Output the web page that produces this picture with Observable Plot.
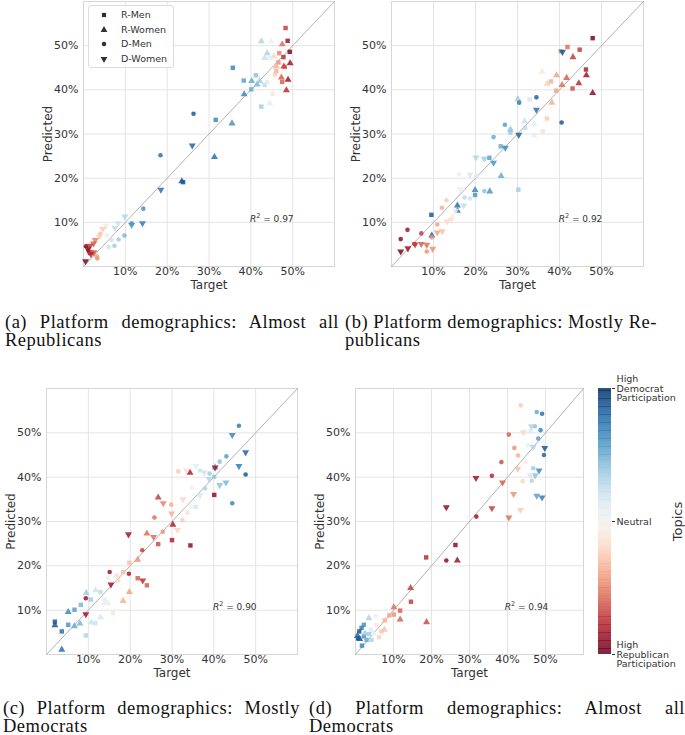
<!DOCTYPE html>
<html><head><meta charset="utf-8">
<script src="https://cdn.jsdelivr.net/npm/d3@7"></script>
<script src="https://cdn.jsdelivr.net/npm/@observablehq/plot@0.6"></script>
<style>
body{margin:0;background:#fff;}
#fig{position:relative;width:685px;height:735px;overflow:hidden;background:#fff;}
.cap{position:absolute;font-family:"Liberation Serif",serif;font-size:18.5px;letter-spacing:0.5px;line-height:18px;color:#111;white-space:nowrap;}
.just{text-align:justify;text-align-last:justify;white-space:normal;}
.leg{position:absolute;left:88px;top:5px;width:84px;height:61px;border:1px solid #dcdcdc;border-radius:3px;background:rgba(255,255,255,0.85);font-family:"DejaVu Sans";font-size:9.5px;color:#333;}
.leg div{position:absolute;left:0;height:12px;line-height:12px;}
.leg svg{position:absolute;left:10px;top:1px;}
.leg span{position:absolute;left:32px;white-space:nowrap;}
</style></head><body><div id="fig"></div>
<script>
// ---------- data: [target %, predicted %, topic lean (-1 = Republican, +1 = Democrat)] ----------
const groups = ["R-Men", "R-Women", "D-Men", "D-Women"];
const ticks = [10, 20, 30, 40, 50];
const diag = [0, 60];

// (a) Almost all Republicans
const aRMen = [[48.3,54.0,-0.7],[48.8,51.1,-0.85],[49.3,48.6,-0.95],[46.8,48.3,-0.5],[47.8,47.4,-0.75],[46.6,46.2,-0.45],[48.1,45.2,-0.5],[46.1,44.2,-0.35],[45.8,43.5,-0.25],[47.5,41.8,-0.6],[45.2,39.1,-0.12],[35.7,45.0,0.65],[38.3,42.1,0.55],[41.2,43.3,0.4],[40.1,40.1,0.5],[43.3,41.1,0.25],[43.9,41.7,0.12],[44.4,47.2,0.08],[42.5,36.2,0.35],[31.6,33.2,0.65],[23.8,19.1,0.85]];
const aRWomen = [[42.5,51.0,0.3],[44.9,51.0,0.02],[47.5,50.3,-0.55],[43.9,48.3,0.3],[43.3,47.2,0.2],[45.5,47.6,-0.2],[49.4,46.0,-0.85],[47.9,45.3,-0.7],[46.1,45.3,-0.35],[47.3,42.8,-0.6],[48.9,42.3,-0.85],[48.5,39.9,-0.75],[40.2,42.0,0.5],[41.5,41.2,0.45],[42.1,42.0,0.35],[38.4,39.0,0.65],[44.5,36.9,0.1],[35.5,32.4,0.6],[31.3,24.8,0.75],[23.5,19.3,0.85]];
const aDMen = [[26.3,34.6,0.85],[18.4,25.2,0.75],[14.3,13.1,0.6],[11.5,9.8,0.6],[9.8,7.0,0.45],[8.4,6.1,0.35],[7.4,4.7,0.35],[6.7,6.0,0.2],[6.0,4.4,0.2],[5.6,7.1,0.05],[0.6,4.6,-0.95],[1.2,3.6,-0.9],[1.5,3.0,-0.8],[2.0,3.2,-0.7],[3.2,2.3,-0.4],[3.3,1.8,-0.45],[4.0,7.4,-0.3]];
const aDWomen = [[26.0,27.4,0.8],[18.5,17.4,0.75],[14.1,9.8,0.7],[11.5,9.4,0.6],[9.9,11.3,0.3],[8.3,9.8,0.2],[7.5,8.7,0.25],[5.4,9.2,0.05],[4.6,8.5,-0.25],[3.8,6.8,-0.25],[2.8,6.0,-0.5],[2.4,5.2,-0.6],[1.6,4.7,-0.7],[0.5,1.2,-0.95],[2.5,3.2,-0.6],[1.0,4.0,-0.85],[1.8,2.8,-0.75]];

// (b) Mostly Republicans
const bRMen = [[47.9,51.7,-0.95],[41.9,49.7,-0.55],[44.8,49.1,-0.7],[40.3,48.7,-0.45],[46.3,44.6,-0.8],[43.1,40.3,-0.65],[38.0,41.9,-0.35],[39.2,39.8,-0.4],[37.0,33.5,-0.25],[36.0,30.6,-0.15],[34.0,29.7,0.1],[32.9,37.8,0.15],[31.8,31.4,0.25],[28.3,30.3,0.35],[26.0,27.2,0.5],[23.3,24.6,0.55],[19.9,16.2,0.6],[30.2,17.4,0.35],[9.5,11.7,0.85]];
const bRWomen = [[43.2,47.4,-0.7],[35.9,44.1,-0.1],[39.3,43.3,-0.4],[41.7,42.7,-0.6],[46.4,43.3,-0.85],[37.1,41.4,-0.25],[40.6,41.1,-0.55],[44.6,41.5,-0.75],[47.9,39.3,-0.9],[38.2,37.1,-0.35],[30.1,37.9,0.35],[31.7,32.9,0.2],[34.0,32.2,0.05],[28.3,31.0,0.4],[26.1,20.5,0.5],[23.4,17.0,0.6],[19.9,17.3,0.65],[15.7,13.8,0.75],[15.7,12.6,0.7],[9.6,7.0,0.8]];
const bDMen = [[34.5,38.3,0.8],[30.4,37.1,0.7],[40.5,32.6,0.85],[27.0,32.1,0.55],[24.3,29.3,0.5],[22.1,17.1,0.4],[20.2,20.5,0.15],[18.7,15.4,0.2],[17.4,15.6,0.25],[16.1,20.9,0.05],[13.1,15.0,-0.25],[12.0,13.3,-0.35],[10.9,9.5,-0.4],[9.6,6.6,-0.45],[7.1,7.5,-0.7],[3.8,8.3,-0.85],[2.2,6.2,-0.9],[5.5,5.1,-0.75],[8.4,3.4,-0.45],[14.5,11.5,0.0]];
const bDWomen = [[40.7,48.6,0.85],[34.5,35.5,0.75],[30.3,29.8,0.8],[27.1,26.9,0.65],[24.3,23.5,0.6],[22.1,24.4,0.35],[20.1,24.7,0.3],[18.7,20.8,0.15],[17.2,13.8,0.25],[16.4,17.5,0.05],[15.2,12.6,0.0],[14.2,10.6,-0.15],[13.2,10.2,-0.2],[12.1,8.0,-0.3],[10.9,7.7,-0.4],[9.8,4.0,-0.45],[8.4,4.9,-0.55],[7.1,5.1,-0.6],[5.6,5.0,-0.7],[3.9,4.1,-0.85],[2.2,3.4,-0.95]];

// (c) Mostly Democrats
const cRMen = [[40.1,36.0,-0.9],[35.7,33.3,0.15],[26.7,24.9,-0.65],[30.0,25.8,-0.8],[34.4,24.6,-0.9],[19.8,20.7,-0.3],[18.3,18.6,-0.3],[16.8,17.8,-0.15],[17.1,16.7,-0.2],[21.8,17.2,-0.6],[24.0,15.6,-0.6],[15.9,9.35,-0.1],[14.7,17.4,0.0],[12.9,14.1,0.25],[10.6,12.4,0.35],[13.9,12.4,0.1],[8.2,11.2,0.45],[6.7,10.1,0.55],[11.7,7.1,0.2],[2.0,7.4,0.85],[5.2,6.7,0.6],[3.65,5.2,0.75],[9.4,4.3,0.3]];
const cRWomen = [[40.3,42.2,0.5],[34.3,41.0,-0.8],[26.7,35.4,-0.7],[30.2,29.3,-0.8],[24.0,27.3,-0.55],[21.8,21.4,-0.45],[19.8,14.1,-0.4],[18.3,12.1,-0.35],[9.5,13.9,0.35],[11.7,14.5,0.2],[13.9,11.6,0.05],[14.7,11.5,0.05],[5.2,9.6,0.65],[12.9,8.4,0.15],[10.7,7.2,0.2],[6.7,6.4,0.5],[8.0,7.0,0.45],[3.65,1.1,0.75],[2.0,6.6,0.85]];
const cDMen = [[46.0,51.6,0.7],[47.6,40.6,0.85],[43.0,44.7,0.55],[41.4,43.5,0.4],[40.1,40.1,0.4],[39.0,40.8,0.35],[36.7,41.5,0.2],[37.9,37.5,0.3],[34.8,37.6,0.0],[44.4,34.1,0.65],[31.5,41.3,-0.25],[29.8,33.8,-0.35],[33.7,32.0,-0.15],[32.5,30.3,-0.25],[34.6,33.3,0.05],[25.8,30.9,-0.55],[27.8,27.7,-0.45],[22.9,23.5,-0.7],[15.1,18.6,-0.85],[19.7,18.2,-0.8],[9.4,12.7,-0.85]];
const cDWomen = [[44.4,49.5,0.65],[47.6,45.6,0.8],[46.0,42.5,0.7],[40.3,42.2,-0.85],[38.9,39.6,0.3],[37.7,41.1,0.2],[35.7,42.5,0.1],[42.9,38.8,0.45],[41.4,38.2,0.4],[36.7,35.9,0.15],[33.5,41.5,-0.15],[27.9,34.1,-0.5],[32.6,35.0,-0.2],[29.9,31.8,-0.35],[31.3,28.1,-0.2],[19.6,27.1,-0.85],[25.6,26.5,-0.55],[15.4,15.8,-0.85],[23.0,16.7,-0.75],[9.4,9.1,-0.85]];

// (d) Almost all Democrats
const dRMen = [[26.3,24.7,-0.9],[18.6,21.9,-0.75],[14.6,11.9,-0.7],[11.75,9.9,-0.6],[10.1,9.0,-0.45],[8.9,8.8,-0.4],[7.7,7.7,-0.35],[6.8,5.2,-0.25],[6.2,3.9,-0.2],[5.35,8.6,0.0],[5.5,6.7,-0.1],[4.0,5.6,0.1],[2.2,6.7,0.6],[1.6,6.0,0.7],[1.0,5.2,0.85],[0.7,3.7,0.9],[2.2,4.1,0.6],[2.9,3.3,0.5],[4.2,3.3,0.3],[1.7,2.0,0.65],[3.6,4.6,0.35]];
const dRWomen = [[26.8,21.2,-0.85],[14.5,15.0,-0.7],[10.1,10.65,-0.55],[11.75,7.9,-0.6],[18.7,7.3,-0.65],[7.6,5.6,-0.3],[3.5,8.2,0.3],[2.5,4.8,0.35],[4.8,4.8,0.05],[1.1,3.5,0.85],[0.5,4.2,0.8]];
const dDMen = [[43.5,56.2,-0.25],[47.7,54.7,0.5],[49.1,54.3,0.75],[47.2,51.5,0.4],[46.1,50.4,0.15],[48.7,50.6,0.65],[40.35,49.6,-0.6],[48.1,48.7,0.55],[49.6,45.0,0.8],[45.4,47.2,0.05],[41.8,46.6,-0.45],[42.8,44.9,-0.35],[44.8,43.4,-0.05],[38.4,43.4,-0.65],[46.75,42.0,0.35],[46.4,39.2,0.3],[44.0,39.1,-0.2],[35.9,40.3,-0.75],[31.8,31.1,-0.85],[23.9,21.2,-0.9]];
const dDWomen = [[46.3,51.5,0.3],[44.2,50.1,-0.2],[49.8,46.6,0.85],[46.75,46.8,0.3],[42.7,41.9,-0.3],[48.3,41.5,0.65],[47.3,40.4,0.4],[46.05,40.4,0.15],[31.7,39.8,-0.85],[38.7,38.8,-0.6],[41.6,36.2,-0.45],[47.7,35.8,0.55],[49.1,35.4,0.7],[43.4,32.6,-0.25],[23.9,33.2,-0.9],[35.9,33.0,-0.7],[40.35,30.9,-0.55]];

const r2Values = [0.97, 0.92, 0.90, 0.94];
const captions = [
  ["(a) Platform demographics: Almost all", "Republicans"],
  ["(b) Platform demographics: Mostly Re-", "publicans"],
  ["(c) Platform demographics: Mostly", "Democrats"],
  ["(d) Platform demographics: Almost all", "Democrats"]
];
const cbTicks = [-1, 0, 1];
const cbLabels = ["High\nRepublican\nParticipation", "Neutral", "High\nDemocrat\nParticipation"];

// ---------- helpers ----------
const S3 = Math.sqrt(3);
const triangleDown = {draw(ctx, size) {
  const y = -Math.sqrt(size / (S3 * 3));
  ctx.moveTo(0, -y * 2); ctx.lineTo(-S3 * y, y); ctx.lineTo(S3 * y, y); ctx.closePath();
}};
const groupSymbol = {"R-Men": "square", "R-Women": "triangle", "D-Men": "circle", "D-Women": triangleDown};
const legendSymbol = {"R-Men": d3.symbolSquare, "R-Women": d3.symbolTriangle, "D-Men": d3.symbolCircle, "D-Women": triangleDown};
const groupR = {"R-Men": 2.5, "R-Women": 2.6, "D-Men": 2.3, "D-Women": 2.6};
const colorScale = {type: "diverging", scheme: "RdBu", domain: [-1, 1], pivot: 0};
const pct = d => d + "%";

function fixR2(svg) {
  svg.querySelectorAll("text").forEach(t => {
    if (t.textContent.startsWith("R^2")) {
      const rest = t.textContent.slice(3);
      while (t.firstChild) t.removeChild(t.firstChild);
      const ns = "http://www.w3.org/2000/svg";
      const a = document.createElementNS(ns, "tspan"); a.setAttribute("font-style", "italic"); a.textContent = "R"; t.appendChild(a);
      const b = document.createElementNS(ns, "tspan"); b.setAttribute("dy", "-4"); b.setAttribute("font-size", "6.5"); b.textContent = "2"; t.appendChild(b);
      const c = document.createElementNS(ns, "tspan"); c.setAttribute("dy", "4"); c.textContent = rest; t.appendChild(c);
    }
  });
}

function panel(series, r2, g) {
  const dots = groups.map((name, i) => Plot.dot(series[i], {
    x: d => d[0], y: d => d[1], fill: d => d[2],
    symbol: groupSymbol[name], r: groupR[name], fillOpacity: 0.85
  }));
  const svg = Plot.plot({
    width: g.w, height: g.h, marginLeft: g.ml, marginRight: g.mr, marginTop: g.mt, marginBottom: g.mb,
    style: {fontFamily: "DejaVu Sans", fontSize: "11px", color: "#333", background: "transparent", overflow: "visible"},
    x: {domain: [0, 60]},
    y: {domain: [0, 60]},
    color: colorScale,
    marks: [
      Plot.gridX({ticks, stroke: "#e4e4e4", strokeOpacity: 1}),
      Plot.gridY({ticks, stroke: "#e4e4e4", strokeOpacity: 1}),
      Plot.frame({stroke: "#d6d6d6"}),
      Plot.axisX({ticks, tickSize: 0, tickPadding: 1, tickFormat: pct, label: null, fontSize: 11, fill: "#333"}),
      Plot.axisY({ticks, tickSize: 0, tickPadding: 5, tickFormat: pct, label: null, fontSize: 11, fill: "#333"}),
      Plot.line(diag, {x: d => d, y: d => d, stroke: "#a9a9a9", strokeWidth: 0.9}),
      ...dots,
      Plot.text([r2], {x: 45, y: 10, text: d => "R^2 = " + d.toFixed(2), lineAnchor: "bottom", fontSize: 9, fill: "#333"}),
      Plot.text(["Target"], {frameAnchor: "bottom", dy: 22, fontSize: 12, fill: "#333"}),
      Plot.text(["Predicted"], {frameAnchor: "left", dx: -35, rotate: -90, textAnchor: "middle", fontSize: 12, fill: "#333"})
    ]
  });
  fixR2(svg);
  return svg;
}

const fig = document.getElementById("fig");
function place(node, left, top) {
  node.style.position = "absolute"; node.style.left = left + "px"; node.style.top = top + "px";
  fig.appendChild(node);
}

const top1 = {h: 300, mt: 1, mb: 34};
const top2 = {h: 324, mt: 28, mb: 30};
place(panel([aRMen, aRWomen, aDMen, aDWomen], r2Values[0], {w: 345, ml: 83, mr: 11, ...top1}), 0, 0);
place(panel([bRMen, bRWomen, bDMen, bDWomen], r2Values[1], {w: 340, ml: 46, mr: 42, ...top1}), 345, 0);
place(panel([cRMen, cRWomen, cDMen, cDWomen], r2Values[2], {w: 310, ml: 46, mr: 13, ...top2}), 0, 360);
place(panel([dRMen, dRWomen, dDMen, dDWomen], r2Values[3], {w: 280, ml: 45, mr: 7, ...top2}), 310, 360);

// colour bar
const cbSteps = d3.range(-1, 1, 0.02);
const cb = Plot.plot({
  width: 95, height: 324, marginLeft: 8, marginRight: 74, marginTop: 28, marginBottom: 30,
  style: {fontFamily: "DejaVu Sans", fontSize: "9.5px", color: "#333", background: "transparent", overflow: "visible"},
  x: {domain: [0, 1], axis: null},
  y: {domain: [-1, 1]},
  color: colorScale,
  marks: [
    Plot.rect(cbSteps, {x1: 0, x2: 1, y1: d => d, y2: d => d + 0.022, fill: d => d + 0.01, fillOpacity: 0.85, shapeRendering: "crispEdges"}),
    Plot.axisY({anchor: "right", ticks: cbTicks, tickFormat: d => cbLabels[cbTicks.indexOf(d)], tickSize: 3, tickPadding: 2, fontSize: 9.5, label: null, fill: "#333", stroke: "#333"}),
    Plot.text(["Topics"], {frameAnchor: "right", dx: 66, rotate: -90, textAnchor: "middle", fontSize: 13, fill: "#333"})
  ]
});
place(cb, 590, 360);

// symbol legend in panel (a)
const leg = document.createElement("div");
leg.className = "leg";
groups.forEach((name, i) => {
  const row = document.createElement("div");
  row.style.top = (3 + i * 14.6) + "px";
  row.style.width = "84px";
  const size = name === "D-Men" ? 16 : name === "R-Men" ? 18 : 20;
  const sym = d3.symbol(legendSymbol[name], size)();
  row.innerHTML = `<svg width="10" height="10"><path transform="translate(5,5)" d="${sym}" fill="#333"></path></svg><span>${name}</span>`;
  leg.appendChild(row);
});
fig.appendChild(leg);

// captions
const capPos = [
  {l: 5, t: 313, w: 334}, {l: 345, t: 313, w: 312},
  {l: 3, t: 699, w: 297}, {l: 309, t: 699, w: 376}
];
captions.forEach((lines, i) => {
  const p = capPos[i];
  const l1 = document.createElement("div");
  l1.className = "cap just"; l1.style.left = p.l + "px"; l1.style.top = p.t + "px"; l1.style.width = p.w + "px";
  l1.textContent = lines[0];
  fig.appendChild(l1);
  const l2 = document.createElement("div");
  l2.className = "cap"; l2.style.left = p.l + "px"; l2.style.top = (p.t + 18) + "px";
  l2.textContent = lines[1];
  fig.appendChild(l2);
});
</script></body></html>
